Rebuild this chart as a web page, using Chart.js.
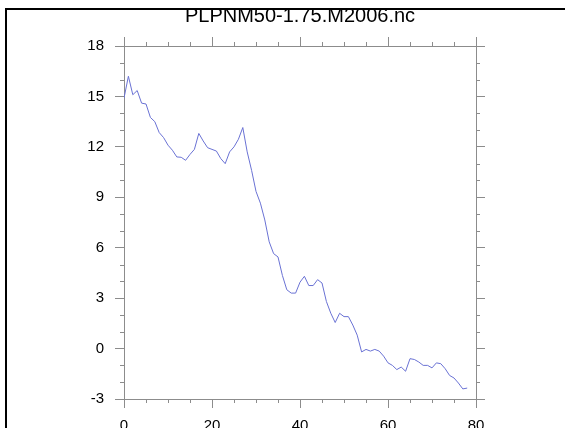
<!DOCTYPE html>
<html>
<head>
<meta charset="utf-8">
<script src="https://cdn.jsdelivr.net/npm/chart.js@4"></script>
<style>
  html, body { margin: 0; padding: 0; background: #fff; overflow: hidden; }
  #wrap { position: relative; width: 565px; height: 428px; }
</style>
</head>
<body>
<div id="wrap"><canvas id="c" width="565" height="428"></canvas></div>
<script>
// Series: one value per time step (step index = position in the list)
const pressure = [
  14.9, 16.2, 15.1, 15.35, 14.6, 14.55, 13.75, 13.5, 12.85, 12.55,
  12.1, 11.8, 11.4, 11.38, 11.2, 11.55, 11.85, 12.8, 12.35, 11.95,
  11.85, 11.75, 11.3, 11.0, 11.7, 12.0, 12.45, 13.15, 11.7, 10.6,
  9.35, 8.65, 7.65, 6.35, 5.65, 5.45, 4.35, 3.5, 3.3, 3.3,
  3.95, 4.3, 3.75, 3.75, 4.1, 3.9, 2.8, 2.1, 1.55, 2.1,
  1.9, 1.9, 1.4, 0.8, -0.2, -0.05, -0.15, -0.05, -0.15, -0.45,
  -0.85, -1.0, -1.25, -1.1, -1.35, -0.6, -0.65, -0.8, -1.0, -1.0,
  -1.15, -0.85, -0.9, -1.2, -1.6, -1.75, -2.05, -2.4, -2.35
];
const titleText = 'PLPNM50-1.75.M2006.nc';
const xRange = [0, 80];
const xMajorStep = 20;
const xMinorStep = 5;
const yRange = [-3, 18];
const yMajorStep = 3;
const yMinorStep = 1;

const AXIS_GRAY = '#8c8c8c';
const FONT = { family: '"Liberation Sans", Arial, Helvetica, sans-serif', size: 15 };

const points = pressure.map((v, i) => ({ x: i, y: v }));

// Short outward minor ticks on all four sides, placed through each scale
const minorTicks = {
  id: 'minorTicks',
  afterDraw(chart) {
    const ctx = chart.ctx;
    const a = chart.chartArea;
    const len = 4;
    ctx.save();
    ctx.strokeStyle = AXIS_GRAY;
    ctx.lineWidth = 1;
    ctx.beginPath();
    const sx = chart.scales.x;
    for (let v = xRange[0]; v <= xRange[1]; v += xMinorStep) {
      if (v % xMajorStep === 0) continue;
      const px = Math.round(sx.getPixelForValue(v)) + 0.5;
      ctx.moveTo(px, a.bottom); ctx.lineTo(px, a.bottom + len);
      ctx.moveTo(px, a.top); ctx.lineTo(px, a.top - len);
    }
    const sy = chart.scales.y;
    for (let v = yRange[0]; v <= yRange[1]; v += yMinorStep) {
      if ((v - yRange[0]) % yMajorStep === 0) continue;
      const py = Math.round(sy.getPixelForValue(v)) + 0.5;
      ctx.moveTo(a.left, py); ctx.lineTo(a.left - len, py);
      ctx.moveTo(a.right, py); ctx.lineTo(a.right + len, py);
    }
    ctx.stroke();
    ctx.restore();
  }
};

// Page frame along the left and top edges
const frame = {
  id: 'frame',
  afterDraw(chart) {
    const ctx = chart.ctx;
    ctx.save();
    ctx.fillStyle = '#000';
    ctx.fillRect(5, 8, chart.width - 5, 2);
    ctx.fillRect(5, 8, 2, chart.height - 8);
    ctx.restore();
  }
};

const hiddenLabels = { color: 'rgba(0,0,0,0)', font: FONT };

new Chart(document.getElementById('c'), {
  type: 'line',
  data: {
    datasets: [{
      data: points,
      borderColor: '#6a72d4',
      borderWidth: 1,
      pointRadius: 0,
      tension: 0,
      fill: false
    }]
  },
  options: {
    responsive: false,
    animation: false,
    devicePixelRatio: 1,
    layout: { padding: { left: 35, right: 0, top: 0, bottom: 0 } },
    plugins: {
      legend: { display: false },
      tooltip: { enabled: false },
      title: {
        display: true,
        text: titleText,
        color: '#000',
        font: { family: FONT.family, size: 20, weight: 'normal' },
        padding: { top: 4, bottom: 0 }
      }
    },
    scales: {
      x: {
        type: 'linear', position: 'bottom',
        min: xRange[0], max: xRange[1],
        ticks: { stepSize: xMajorStep, color: '#000', font: FONT, padding: 9, maxRotation: 0 },
        grid: { drawOnChartArea: false, drawTicks: true, tickLength: 9, tickColor: AXIS_GRAY },
        border: { display: true, color: AXIS_GRAY, width: 1 },
        afterFit(s) { s.height = 29; }
      },
      x2: {
        type: 'linear', position: 'top',
        min: xRange[0], max: xRange[1],
        ticks: Object.assign({ stepSize: xMajorStep }, hiddenLabels),
        grid: { drawOnChartArea: false, drawTicks: true, tickLength: 9, tickColor: AXIS_GRAY },
        border: { display: true, color: AXIS_GRAY, width: 1 },
        afterFit(s) { s.height = 18; }
      },
      y: {
        type: 'linear', position: 'left',
        min: yRange[0], max: yRange[1],
        ticks: { stepSize: yMajorStep, color: '#000', font: FONT, padding: 11 },
        grid: { drawOnChartArea: false, drawTicks: true, tickLength: 9, tickColor: AXIS_GRAY },
        border: { display: true, color: AXIS_GRAY, width: 1 },
        afterFit(s) { s.width = 89; }
      },
      y2: {
        type: 'linear', position: 'right',
        min: yRange[0], max: yRange[1],
        ticks: Object.assign({ stepSize: yMajorStep }, hiddenLabels),
        grid: { drawOnChartArea: false, drawTicks: true, tickLength: 9, tickColor: AXIS_GRAY },
        border: { display: true, color: AXIS_GRAY, width: 1 },
        afterFit(s) { s.width = 89; }
      }
    }
  },
  plugins: [minorTicks, frame]
});
</script>
</body>
</html>
